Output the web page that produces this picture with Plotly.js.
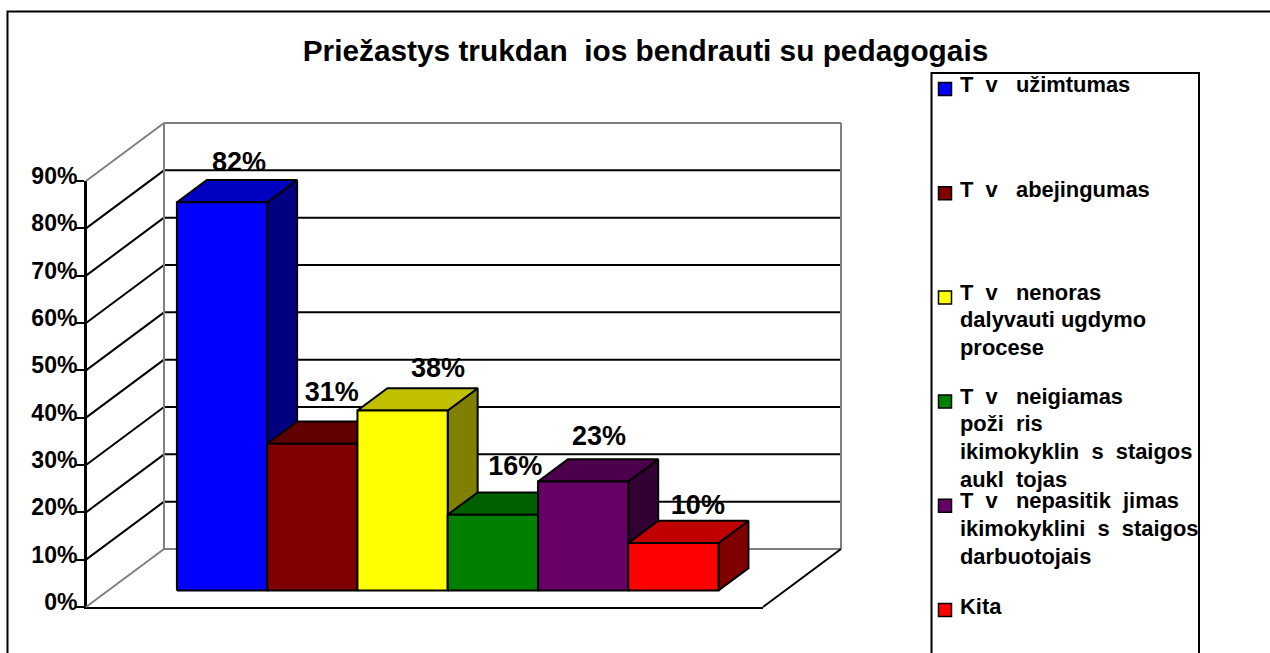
<!DOCTYPE html>
<html>
<head>
<meta charset="utf-8">
<script src="https://cdn.plot.ly/plotly-3.0.1.min.js"></script>
<style>html,body{margin:0;padding:0;background:#fff;overflow:hidden}#chart{width:1270px;height:653px}</style>
</head>
<body>
<div id="chart"></div>
<script>
// ---- data ----
var titleText = 'Priežastys trukdan  ios bendrauti su pedagogais';
var categories = [
  'T  v   užimtumas',
  'T  v   abejingumas',
  'T  v   nenoras<br>dalyvauti ugdymo<br>procese',
  'T  v   neigiamas<br>poži  ris<br>ikimokyklin  s  staigos<br>aukl  tojas',
  'T  v   nepasitik  jimas<br>ikimokyklini  s  staigos<br>darbuotojais',
  'Kita'
];
var values = [82, 31, 38, 16, 23, 10];
var tickValues = [0, 10, 20, 30, 40, 50, 60, 70, 80, 90];

// ---- styles ----
var frontColors = ['#0000FF', '#800000', '#FFFF00', '#008000', '#660066', '#FF0000'];
var topColors   = ['#0000C0', '#600000', '#C0C000', '#006000', '#4C004C', '#C00000'];
var sideColors  = ['#000080', '#400000', '#808000', '#004000', '#330033', '#800000'];
var FONT = '"Liberation Sans", Arial, sans-serif';

// ---- oblique projection, all in axis units ----
var W = 1270, H = 653;
var plotL = 86, plotR = 763, plotT = 181, plotB = 607;
var unitX = (plotR - plotL) / 7.5;           // px per bar width
var unitY = (plotB - plotT) / 90;            // px per percent
var depthX = 78 / unitX, depthY = 58 / unitY;
var gapStart = 0.76, dFront = 0.286, dBack = 0.67;
function X(u, d) { return u + d * depthX; }
function Y(v, d) { return v + d * depthY; }
function pxX(px) { return (px - plotL) / unitX; }
function pxY(py) { return (plotB - py) / unitY; }

var traces = [];
function seg(xs, ys, color, w) {
  traces.push({type:'scatter', mode:'lines', x:xs, y:ys, xaxis:'x2', yaxis:'y2',
    line:{color:color, width:w}, showlegend:false, hoverinfo:'skip'});
}
function face(xs, ys, fill, name) {
  traces.push({type:'scatter', mode:'lines', x:xs.concat(xs[0]), y:ys.concat(ys[0]), xaxis:'x2', yaxis:'y2',
    fill:'toself', fillcolor:fill, line:{color:'#000', width:2}, name:name,
    showlegend:false, hoverinfo:'skip'});
}

// value-axis spine on the visible axes
traces.push({type:'scatter', mode:'lines', x:[0,0], y:[tickValues[0], tickValues[tickValues.length-1]],
  xaxis:'x', yaxis:'y', line:{color:'#000', width:2}, showlegend:false, hoverinfo:'skip', cliponaxis:false});

// walls
tickValues.forEach(function (t) {
  var edge = (t === 0 || t === 90);
  var c = edge ? '#808080' : '#000';
  seg([X(0,0), X(0,1)], [Y(t,0), Y(t,1)], c, 2);
  seg([X(0,1), X(7.5,1)], [Y(t,1), Y(t,1)], c, 2);
});
seg([X(0,1), X(0,1)], [Y(0,1), Y(90,1)], '#808080', 2);
seg([X(7.5,1), X(7.5,1)], [Y(0,1), Y(90,1)], '#808080', 2);
seg([X(7.5,0), X(7.5,1)], [Y(0,0), Y(0,1)], '#000', 2);

// bars, painted left to right
values.forEach(function (v, i) {
  var a = gapStart + i, b = a + 1, n = categories[i];
  face([X(b,dFront), X(b,dBack), X(b,dBack), X(b,dFront)],
       [Y(0,dFront), Y(0,dBack), Y(v,dBack), Y(v,dFront)], sideColors[i], n);
  face([X(a,dFront), X(a,dBack), X(b,dBack), X(b,dFront)],
       [Y(v,dFront), Y(v,dBack), Y(v,dBack), Y(v,dFront)], topColors[i], n);
  face([X(a,dFront), X(a,dFront), X(b,dFront), X(b,dFront)],
       [Y(0,dFront), Y(v,dFront), Y(v,dFront), Y(0,dFront)], frontColors[i], n);
});

// data labels (hand placed in the original): nudge in px from top-centre of bar front
var nudgeX = [17, 19.5, 35.5, 22.5, 16, 24.5];
var nudgeY = [38, 49, 40, 46, 43, 36];
traces.push({type:'scatter', mode:'text', xaxis:'x2', yaxis:'y2', showlegend:false, hoverinfo:'skip',
  x: values.map(function (v, i) { return X(gapStart + i + 0.5, dFront) + nudgeX[i] / unitX; }),
  y: values.map(function (v, i) { return Y(v, dFront) + nudgeY[i] / unitY; }),
  text: values.map(function (v) { return v + '%'; }),
  textposition:'middle center',
  textfont:{family:FONT, size:27, color:'#000', weight:700}
});

// legend swatches
var legendPitch = 104.2, legendFirstY = 89, legendSwatchX = 945, legendTextX = 958.5, legendLine = 27.8;
var legendTextY = [85, 189, 292, 396, 501, 606];
categories.forEach(function (c, i) {
  traces.push({type:'scatter', mode:'markers', xaxis:'x2', yaxis:'y2', showlegend:false, name:c, hoverinfo:'name',
    x:[pxX(legendSwatchX)], y:[pxY(legendFirstY + i * legendPitch)],
    marker:{symbol:'square', size:13, color:frontColors[i], line:{color:'#000', width:1.5}}});
});

var annotations = [];
categories.forEach(function (c, i) {
  c.split('<br>').forEach(function (line, k) {
    annotations.push({text:line, xref:'paper', yref:'paper', x:legendTextX / W, y:1 - (legendTextY[i] + k * legendLine) / H,
      xanchor:'left', yanchor:'middle', align:'left', showarrow:false, borderpad:0,
      font:{family:FONT, size:21.9, color:'#000', weight:700}});
  });
});

function box(x0, y0, x1, y1) {
  return {type:'rect', xref:'paper', yref:'paper', x0:x0 / W, x1:x1 / W, y0:1 - y0 / H, y1:1 - y1 / H,
    line:{color:'#000', width:2}, fillcolor:'rgba(0,0,0,0)', layer:'above'};
}
var shapes = [box(7.5, 11.5, 1290, 670), box(931.5, 73, 1199, 670)];

var layout = {
  width:W, height:H, paper_bgcolor:'#fff', plot_bgcolor:'rgba(0,0,0,0)',
  margin:{l:0, r:0, t:0, b:0, pad:0},
  showlegend:false,
  title:{text:titleText, x:645.5/W, xanchor:'center', xref:'container',
         y:1 - 51/H, yanchor:'middle', yref:'container',
         font:{family:FONT, size:29.8, color:'#000', weight:700}},
  xaxis:{domain:[plotL / W, plotR / W], anchor:'y', range:[0,7.5], showgrid:false, zeroline:false,
         showticklabels:false, ticks:'', showline:true, linecolor:'#000', linewidth:2, fixedrange:true},
  yaxis:{domain:[1 - plotB / H, 1 - plotT / H], anchor:'x', range:[0,90], tickvals:tickValues,
         ticktext:tickValues.map(function (t) { return t + '%'; }),
         showgrid:false, zeroline:false, showline:true, linecolor:'#000', linewidth:2,
         ticks:'outside', ticklen:9, tickwidth:2, tickcolor:'#000', ticklabelstandoff:-7, ticklabelshift:-5,
         tickfont:{family:FONT, size:23, color:'#000', weight:700}, fixedrange:true},
  xaxis2:{domain:[0,1], anchor:'y2', range:[pxX(0), pxX(W)], visible:false, fixedrange:true},
  yaxis2:{domain:[0,1], anchor:'x2', range:[pxY(H), pxY(0)], visible:false, fixedrange:true},
  annotations:annotations, shapes:shapes
};
Plotly.newPlot('chart', traces, layout, {displayModeBar:false, responsive:false});
</script>
</body>
</html>
